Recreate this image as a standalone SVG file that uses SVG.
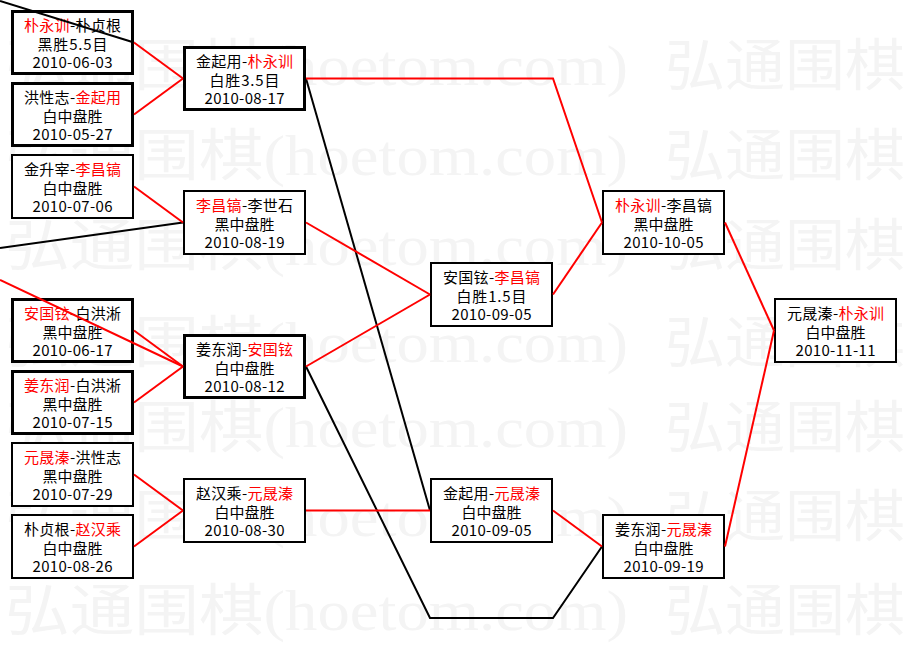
<svg xmlns="http://www.w3.org/2000/svg" width="906" height="661" viewBox="0 0 906 661">
<style>
.wm{font-family:"Liberation Serif","Noto Sans CJK SC",serif;font-size:56px;fill:#f4f4f4}
.box{fill:#fff;stroke:#000;stroke-width:2}
.bold{stroke-width:3}
.t{font-family:"Noto Sans CJK SC","Noto Sans CJK JP",sans-serif;font-size:15px;fill:#000;text-anchor:middle}
.r{fill:#f00}
.red{fill:none;stroke:#f00;stroke-width:2}
.blk{fill:none;stroke:#000;stroke-width:2}
</style>
<rect width="906" height="661" fill="#fff"/>
<g id="watermark">
<text class="wm" x="5" y="85" textLength="623" lengthAdjust="spacingAndGlyphs">弘通围棋(hoetom.com)</text><text class="wm" x="665" y="85" textLength="240" lengthAdjust="spacingAndGlyphs">弘通围棋</text>
<text class="wm" x="5" y="175" textLength="623" lengthAdjust="spacingAndGlyphs">弘通围棋(hoetom.com)</text><text class="wm" x="665" y="175" textLength="240" lengthAdjust="spacingAndGlyphs">弘通围棋</text>
<text class="wm" x="5" y="265" textLength="623" lengthAdjust="spacingAndGlyphs">弘通围棋(hoetom.com)</text><text class="wm" x="665" y="265" textLength="240" lengthAdjust="spacingAndGlyphs">弘通围棋</text>
<text class="wm" x="5" y="362" textLength="623" lengthAdjust="spacingAndGlyphs">弘通围棋(hoetom.com)</text><text class="wm" x="665" y="362" textLength="240" lengthAdjust="spacingAndGlyphs">弘通围棋</text>
<text class="wm" x="5" y="447" textLength="623" lengthAdjust="spacingAndGlyphs">弘通围棋(hoetom.com)</text><text class="wm" x="665" y="447" textLength="240" lengthAdjust="spacingAndGlyphs">弘通围棋</text>
<text class="wm" x="5" y="536" textLength="623" lengthAdjust="spacingAndGlyphs">弘通围棋(hoetom.com)</text><text class="wm" x="665" y="536" textLength="240" lengthAdjust="spacingAndGlyphs">弘通围棋</text>
<text class="wm" x="5" y="630" textLength="623" lengthAdjust="spacingAndGlyphs">弘通围棋(hoetom.com)</text><text class="wm" x="665" y="630" textLength="240" lengthAdjust="spacingAndGlyphs">弘通围棋</text>
</g>

<g id="n1"><rect class="box bold" x="12.5" y="11.5" width="120" height="62"/>
<text class="t" x="72.5" y="31" textLength="97"><tspan class="r">朴永训</tspan>-朴贞根</text>
<text class="t" x="72.5" y="50" textLength="70">黑胜5.5目</text>
<text class="t" x="72.5" y="68" textLength="80">2010-06-03</text></g>

<g id="n2"><rect class="box bold" x="12.5" y="83.5" width="120" height="62"/>
<text class="t" x="72.5" y="103" textLength="97">洪性志-<tspan class="r">金起用</tspan></text>
<text class="t" x="72.5" y="122">白中盘胜</text>
<text class="t" x="72.5" y="140" textLength="80">2010-05-27</text></g>

<g id="n3"><rect class="box" x="12" y="155" width="121" height="63"/>
<text class="t" x="72.5" y="175" textLength="97">金升宰-<tspan class="r">李昌镐</tspan></text>
<text class="t" x="72.5" y="194">白中盘胜</text>
<text class="t" x="72.5" y="212" textLength="80">2010-07-06</text></g>

<g id="n4"><rect class="box bold" x="12.5" y="299.5" width="120" height="62"/>
<text class="t" x="72.5" y="319" textLength="97"><tspan class="r">安国铉</tspan>-白洪淅</text>
<text class="t" x="72.5" y="338">黑中盘胜</text>
<text class="t" x="72.5" y="356" textLength="80">2010-06-17</text></g>

<g id="n5"><rect class="box bold" x="12.5" y="371.5" width="120" height="62"/>
<text class="t" x="72.5" y="391" textLength="97"><tspan class="r">姜东润</tspan>-白洪淅</text>
<text class="t" x="72.5" y="410">黑中盘胜</text>
<text class="t" x="72.5" y="428" textLength="80">2010-07-15</text></g>

<g id="n6"><rect class="box" x="12" y="443" width="121" height="63"/>
<text class="t" x="72.5" y="463" textLength="97"><tspan class="r">元晟溱</tspan>-洪性志</text>
<text class="t" x="72.5" y="482">黑中盘胜</text>
<text class="t" x="72.5" y="500" textLength="80">2010-07-29</text></g>

<g id="n7"><rect class="box" x="12" y="515" width="121" height="63"/>
<text class="t" x="72.5" y="535" textLength="97">朴贞根-<tspan class="r">赵汉乘</tspan></text>
<text class="t" x="72.5" y="554">白中盘胜</text>
<text class="t" x="72.5" y="572" textLength="80">2010-08-26</text></g>

<g id="nA"><rect class="box bold" x="184.5" y="47.5" width="120" height="62"/>
<text class="t" x="244.5" y="67" textLength="97">金起用-<tspan class="r">朴永训</tspan></text>
<text class="t" x="244.5" y="86" textLength="70">白胜3.5目</text>
<text class="t" x="244.5" y="104" textLength="80">2010-08-17</text></g>

<g id="nB"><rect class="box" x="184" y="191" width="121" height="63"/>
<text class="t" x="244.5" y="211" textLength="97"><tspan class="r">李昌镐</tspan>-李世石</text>
<text class="t" x="244.5" y="230">黑中盘胜</text>
<text class="t" x="244.5" y="248" textLength="80">2010-08-19</text></g>

<g id="nC"><rect class="box bold" x="184.5" y="335.5" width="120" height="62"/>
<text class="t" x="244.5" y="355" textLength="97">姜东润-<tspan class="r">安国铉</tspan></text>
<text class="t" x="244.5" y="374">白中盘胜</text>
<text class="t" x="244.5" y="392" textLength="80">2010-08-12</text></g>

<g id="nD"><rect class="box" x="184" y="479" width="121" height="63"/>
<text class="t" x="244.5" y="499" textLength="97">赵汉乘-<tspan class="r">元晟溱</tspan></text>
<text class="t" x="244.5" y="518">白中盘胜</text>
<text class="t" x="244.5" y="536" textLength="80">2010-08-30</text></g>

<g id="nE"><rect class="box" x="431" y="263" width="121" height="63"/>
<text class="t" x="491.5" y="283" textLength="97">安国铉-<tspan class="r">李昌镐</tspan></text>
<text class="t" x="491.5" y="302" textLength="70">白胜1.5目</text>
<text class="t" x="491.5" y="320" textLength="80">2010-09-05</text></g>

<g id="nF"><rect class="box" x="431" y="479" width="121" height="63"/>
<text class="t" x="491.5" y="499" textLength="97">金起用-<tspan class="r">元晟溱</tspan></text>
<text class="t" x="491.5" y="518">白中盘胜</text>
<text class="t" x="491.5" y="536" textLength="80">2010-09-05</text></g>

<g id="nG"><rect class="box" x="603" y="191" width="121" height="63"/>
<text class="t" x="663.5" y="211" textLength="97"><tspan class="r">朴永训</tspan>-李昌镐</text>
<text class="t" x="663.5" y="230">黑中盘胜</text>
<text class="t" x="663.5" y="248" textLength="80">2010-10-05</text></g>

<g id="nH"><rect class="box" x="603" y="515" width="121" height="63"/>
<text class="t" x="663.5" y="535" textLength="97">姜东润-<tspan class="r">元晟溱</tspan></text>
<text class="t" x="663.5" y="554">白中盘胜</text>
<text class="t" x="663.5" y="572" textLength="80">2010-09-19</text></g>

<g id="nI"><rect class="box" x="775" y="299" width="121" height="63"/>
<text class="t" x="835.5" y="319" textLength="97">元晟溱-<tspan class="r">朴永训</tspan></text>
<text class="t" x="835.5" y="338">白中盘胜</text>
<text class="t" x="835.5" y="356" textLength="80">2010-11-11</text></g>

<g id="connectors">
<path class="blk" d="M0,1 L134,42.5"/>
<path class="blk" d="M0,248 L183,222.5"/>
<path class="blk" d="M306,78.5 L430,510.5"/>
<path class="blk" d="M306,366.5 L430,618 L553,618 L602,546.5"/>
<path class="red" d="M134,42.5 L183,78.5"/>
<path class="red" d="M134,114.5 L183,78.5"/>
<path class="red" d="M134,186.5 L183,222.5"/>
<path class="red" d="M0,280 L183,366.5"/>
<path class="red" d="M134,330.5 L183,366.5"/>
<path class="red" d="M134,402.5 L183,366.5"/>
<path class="red" d="M134,474.5 L183,510.5"/>
<path class="red" d="M134,546.5 L183,510.5"/>
<path class="red" d="M306,78.5 L553,78.5 L602,222.5"/>
<path class="red" d="M306,222.5 L430,294.5"/>
<path class="red" d="M306,366.5 L430,294.5"/>
<path class="red" d="M306,510.5 L430,510.5"/>
<path class="red" d="M553,294.5 L602,222.5"/>
<path class="red" d="M553,510.5 L602,546.5"/>
<path class="red" d="M725,222.5 L774,330.5"/>
<path class="red" d="M725,546.5 L774,330.5"/>
</g>
</svg>
